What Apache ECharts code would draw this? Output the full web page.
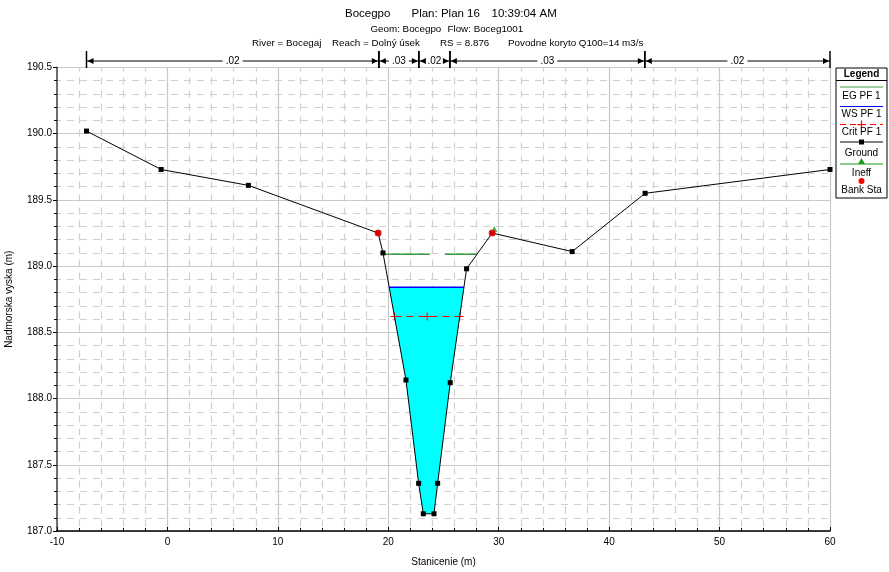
<!DOCTYPE html>
<html>
<head>
<meta charset="UTF-8">
<title>Bocegpo cross section</title>
<script src="https://cdn.jsdelivr.net/npm/echarts@6/dist/echarts.min.js"></script>
<style>
html, body { margin: 0; padding: 0; background: #fff; }
#chart { width: 889px; height: 572px; }
</style>
</head>
<body>
<div id="chart"></div>
<script>
// ground profile (station, elevation)
var groundX = [-7.33, -0.57, 7.33, 19.08, 19.52, 21.6, 22.75, 23.17, 24.14, 24.47, 25.61, 27.09, 29.41, 36.65, 43.26, 60];
var groundY = [190.02, 189.73, 189.61, 189.25, 189.10, 188.14, 187.36, 187.13, 187.13, 187.36, 188.12, 188.98, 189.25, 189.11, 189.55, 189.73];
// bank stations
var bankX = [19.08, 29.41];
var bankY = [189.25, 189.25];
// ineffective flow marker
var ineffX = [29.6];
var ineffY = [189.28];
// water levels
var wsElev = 188.84;
var critElev = 188.62;
var egElev = 189.09;
var egSegments = [[19.52, 23.77], [25.13, 28.0]];
// manning n regions
var nBreaks = [-7.33, 19.15, 22.77, 25.58, 43.23, 60];
var nValues = ['.02', '.03', '.02', '.03', '.02'];

var FONT = 'Liberation Sans, Arial, sans-serif';

// find where ground crosses elevation on both sides of thalweg
function crossings(elev) {
  var iMin = 0;
  for (var i = 1; i < groundY.length; i++) if (groundY[i] < groundY[iMin]) iMin = i;
  var l = iMin, r = iMin;
  while (l > 0 && groundY[l - 1] < elev) l--;
  while (r < groundY.length - 1 && groundY[r + 1] < elev) r++;
  function interp(a, b) {
    return groundX[a] + (elev - groundY[a]) / (groundY[b] - groundY[a]) * (groundX[b] - groundX[a]);
  }
  return { left: interp(l, l - 1), right: interp(r, r + 1), l: l, r: r };
}

var ws = crossings(wsElev);
var cr = crossings(critElev);

var waterPoly = [[ws.left, wsElev]];
for (var k = ws.l; k <= ws.r; k++) waterPoly.push([groundX[k], groundY[k]]);
waterPoly.push([ws.right, wsElev]);

var groundData = groundX.map(function (x, i) { return [x, groundY[i]]; });
var critData = [[cr.left, critElev], [(cr.left + cr.right) / 2, critElev], [cr.right, critElev]];
var nData = nValues.map(function (v, i) { return [nBreaks[i], nBreaks[i + 1], 190.5]; });

var plusPath = 'path://M0,4.4H10V5.6H0Z M4.4,0H5.6V10H4.4Z';

var series = [
  {
    type: 'custom',
    z: 1,
    silent: true,
    data: [[ws.left, wsElev]],
    renderItem: function (params, api) {
      var pts = waterPoly.map(function (p) { return api.coord(p); });
      return { type: 'polygon', shape: { points: pts }, style: { fill: '#00ffff', stroke: null } };
    }
  },
  {
    type: 'line', z: 3, symbol: 'none', silent: true,
    data: [[ws.left, wsElev], [ws.right, wsElev]],
    lineStyle: { color: '#0000ff', width: 1.5 }
  },
  {
    type: 'line', z: 3, symbol: plusPath, symbolSize: 8, silent: true,
    data: critData,
    itemStyle: { color: '#ff0000' },
    lineStyle: { color: '#ff0000', width: 1, type: [7, 5] }
  }
];

egSegments.forEach(function (s) {
  series.push({
    type: 'line', z: 3, symbol: 'none', silent: true,
    data: [[s[0], egElev], [s[1], egElev]],
    lineStyle: { color: '#3c9c3c', width: 1.5 }
  });
});

series.push(
  {
    type: 'line', z: 4, silent: true,
    data: groundData,
    symbol: 'rect', symbolSize: 5,
    itemStyle: { color: '#000' },
    lineStyle: { color: '#000', width: 1 }
  },
  {
    type: 'scatter', z: 5, silent: true,
    data: ineffX.map(function (x, i) { return [x, ineffY[i]]; }),
    symbol: 'triangle', symbolSize: 6,
    itemStyle: { color: '#1a9a1a' }
  },
  {
    type: 'scatter', z: 6, silent: true,
    data: bankX.map(function (x, i) { return [x, bankY[i]]; }),
    symbol: 'circle', symbolSize: 7,
    itemStyle: { color: '#ff0000' }
  },
  {
    // manning n band above the plot
    type: 'custom', z: 10, silent: true, clip: false,
    data: nData,
    encode: { x: [0, 1], y: 2 },
    renderItem: function (params, api) {
      var p0 = api.coord([api.value(0), api.value(2)]);
      var p1 = api.coord([api.value(1), api.value(2)]);
      var y = p0[1] - 6.5;
      var mid = (p0[0] + p1[0]) / 2;
      var label = nValues[params.dataIndex];
      var halfW = 10;
      return {
        type: 'group',
        children: [
          { type: 'line', shape: { x1: p0[0], y1: y, x2: mid - halfW, y2: y }, style: { stroke: '#000', lineWidth: 1 } },
          { type: 'line', shape: { x1: mid + halfW, y1: y, x2: p1[0], y2: y }, style: { stroke: '#000', lineWidth: 1 } },
          { type: 'line', shape: { x1: p0[0], y1: y - 10, x2: p0[0], y2: y + 7 }, style: { stroke: '#000', lineWidth: 1.5 } },
          { type: 'line', shape: { x1: p1[0], y1: y - 10, x2: p1[0], y2: y + 7 }, style: { stroke: '#000', lineWidth: 1.5 } },
          { type: 'polygon', shape: { points: [[p0[0] + 1, y], [p0[0] + 7, y - 3], [p0[0] + 7, y + 3]] }, style: { fill: '#000' } },
          { type: 'polygon', shape: { points: [[p1[0] - 1, y], [p1[0] - 7, y - 3], [p1[0] - 7, y + 3]] }, style: { fill: '#000' } },
          { type: 'text', x: mid, y: y, style: { text: label, fill: '#000', font: '10px ' + FONT, align: 'center', verticalAlign: 'middle' } }
        ]
      };
    }
  }
);

function txt(x, y, s, size, weight, align) {
  return {
    type: 'text', x: x, y: y, z: 30,
    style: { text: s, fill: '#000', font: (weight || 'normal') + ' ' + size + 'px ' + FONT, align: align || 'left', verticalAlign: 'middle' }
  };
}
function hline(x1, x2, y, color, dash) {
  var st = { stroke: color, lineWidth: 1.2 };
  if (dash) st.lineDash = dash;
  return { type: 'line', z: 30, shape: { x1: x1, y1: y, x2: x2, y2: y }, style: st };
}

var LX0 = 836, LX1 = 887, LC = 861.5;
var graphics = [
  txt(345, 14, 'Bocegpo', 11.5),
  txt(411.5, 14, 'Plan: Plan 16', 11.5),
  txt(491.5, 14, '10:39:04 AM', 11.5),
  txt(370.5, 29.5, 'Geom: Bocegpo', 9.8),
  txt(447.5, 29.5, 'Flow: Boceg1001', 9.8),
  txt(252, 43, 'River = Bocegaj', 9.8),
  txt(332, 43, 'Reach = Dolný úsek', 9.8),
  txt(440, 43, 'RS = 8.876', 9.8),
  txt(508, 43, 'Povodne koryto Q100=14 m3/s', 9.8),
  // legend box
  { type: 'rect', z: 29, shape: { x: LX0, y: 68, width: LX1 - LX0, height: 130 }, style: { fill: '#fff', stroke: '#000', lineWidth: 1 } },
  txt(LC, 74.5, 'Legend', 10, 'bold', 'center'),
  hline(LX0, LX1, 80.5, '#000'),
  hline(LX0 + 4, LX1 - 4, 87, '#3c9c3c'),
  txt(LC, 96, 'EG PF 1', 10, null, 'center'),
  hline(LX0 + 4, LX1 - 4, 106.5, '#0000ff'),
  txt(LC, 114, 'WS PF 1', 10, null, 'center'),
  hline(LX0 + 4, LX1 - 4, 124.5, '#ff0000', [6, 4]),
  { type: 'rect', z: 30, shape: { x: LC - 4, y: 124, width: 8, height: 1.2 }, style: { fill: '#ff0000' } },
  { type: 'rect', z: 30, shape: { x: LC - 0.6, y: 120.5, width: 1.2, height: 8 }, style: { fill: '#ff0000' } },
  txt(LC, 132.5, 'Crit PF 1', 10, null, 'center'),
  hline(LX0 + 4, LX1 - 4, 142, '#000'),
  { type: 'rect', z: 30, shape: { x: LC - 2.5, y: 139.5, width: 5, height: 5 }, style: { fill: '#000' } },
  txt(LC, 153.5, 'Ground', 10, null, 'center'),
  hline(LX0 + 4, LX1 - 4, 164, '#1a9a1a'),
  { type: 'polygon', z: 30, shape: { points: [[LC, 158], [LC - 3.5, 164], [LC + 3.5, 164]] }, style: { fill: '#1a9a1a' } },
  txt(LC, 173, 'Ineff', 10, null, 'center'),
  { type: 'circle', z: 30, shape: { cx: LC, cy: 181, r: 3 }, style: { fill: '#ff0000' } },
  txt(LC, 190.5, 'Bank Sta', 10, null, 'center')
];

var chart = echarts.init(document.getElementById('chart'), null, { renderer: 'canvas' });
chart.setOption({
  animation: false,
  backgroundColor: '#fff',
  textStyle: { fontFamily: FONT },
  grid: { left: 57, right: 59, top: 67.5, bottom: 41, containLabel: false, outerBoundsMode: 'none' },
  xAxis: {
    type: 'value', min: -10, max: 60, interval: 10,
    name: 'Stanicenie (m)', nameLocation: 'middle', nameGap: 26,
    nameTextStyle: { color: '#000', fontSize: 10, fontFamily: FONT },
    axisLine: { show: true, onZero: false, lineStyle: { color: '#000', width: 1.5 } },
    axisTick: { show: true, inside: true, length: 4, lineStyle: { color: '#000' } },
    minorTick: { show: true, splitNumber: 5, length: 3, lineStyle: { color: '#000' } },
    axisLabel: { color: '#000', fontSize: 10, margin: 6 },
    splitLine: { show: true, lineStyle: { color: '#c8c8c8', width: 1.2 } },
    minorSplitLine: { show: true, lineStyle: { color: '#cfcfcf', width: 1.2, type: [7, 6], dashOffset: 3 } }
  },
  yAxis: {
    type: 'value', min: 187, max: 190.5, interval: 0.5,
    name: 'Nadmorska vyska (m)', nameLocation: 'middle', nameGap: 43, nameRotate: 90,
    nameTextStyle: { color: '#000', fontSize: 10, fontFamily: FONT },
    axisLine: { show: true, onZero: false, lineStyle: { color: '#6e6e6e', width: 2 } },
    axisTick: { show: true, inside: false, length: 4, lineStyle: { color: '#000' } },
    minorTick: { show: true, splitNumber: 5, length: 3, lineStyle: { color: '#000' } },
    axisLabel: { color: '#000', fontSize: 10, margin: 5, formatter: function (v) { return v.toFixed(1); } },
    splitLine: { show: true, lineStyle: { color: '#c8c8c8', width: 1.2 } },
    minorSplitLine: { show: true, lineStyle: { color: '#cfcfcf', width: 1.2, type: [7, 6], dashOffset: 3 } }
  },
  graphic: graphics,
  series: series
});
</script>
</body>
</html>
